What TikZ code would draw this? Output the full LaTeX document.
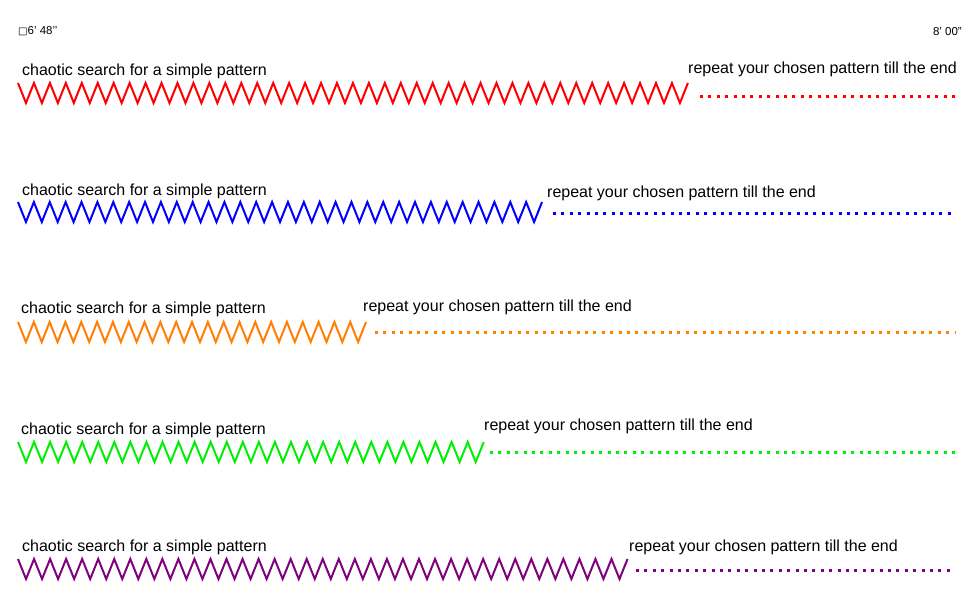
\documentclass[tikz,border=0pt]{standalone}
\usepackage{fontspec}
\setmainfont{Liberation Sans}
\newfontfamily\symfont{DejaVu Sans}
\definecolor{zorange}{RGB}{255,128,0}
\definecolor{zgreen}{RGB}{0,240,0}
\definecolor{zpurple}{RGB}{128,0,128}
\tikzset{
  zig/.style={line width=2pt, line join=miter},
  dotline/.style={line width=3pt, dash pattern=on 3pt off 5.4pt},
  lbl/.style={anchor=base west, inner sep=0pt, font=\fontsize{16}{19}\selectfont},
  stamp/.style={inner sep=0pt, font=\fontsize{11.5}{13}\selectfont}
}
\begin{document}
\begin{tikzpicture}[x=1pt, y=-1pt]
    \useasboundingbox (0,0) rectangle (980,600);

    % Time stamps
    \node[stamp, anchor=base west] (start) at (18,34) {{\symfont\fontsize{10}{12}\selectfont □}6\symbol{39} 48\symbol{39}\symbol{39}};
    \node[stamp, anchor=base east] (finish) at (962,35.5) {8\symbol{39} 00\symbol{34}};

    % Red row
    \draw[zig, red] (18,83) foreach \i in {1,...,42} { -- ++(7.975,20) -- ++(7.975,-20) };
    \draw[dotline, red] (700,96) -- (955,96);
    \node[lbl] (chaosred) at (22,75) {chaotic search for a simple pattern};
    \node[lbl] (repeatred) at (688,73.5) {repeat your chosen pattern till the end};

    % Blue row
    \draw[zig, blue] (18,202) foreach \i in {1,...,33} { -- ++(7.94,20) -- ++(7.94,-20) };
    \draw[dotline, blue] (553,213) -- (955,213);
    \node[lbl] (chaosblue) at (22,195) {chaotic search for a simple pattern};
    \node[lbl] (repeatblue) at (547,197) {repeat your chosen pattern till the end};

    % Orange row
    \draw[zig, zorange] (18,322) foreach \i in {1,...,22} { -- ++(7.91,20) -- ++(7.91,-20) };
    \draw[dotline, zorange] (375,332) -- (955,332);
    \node[lbl] (chaosorange) at (21,313.5) {chaotic search for a simple pattern};
    \node[lbl] (repeatorange) at (363,311.5) {repeat your chosen pattern till the end};

    % Green row
    \draw[zig, zgreen] (18,442) foreach \i in {1,...,29} { -- ++(8.03,20) -- ++(8.03,-20) };
    \draw[dotline, zgreen] (490,452) -- (955,452);
    \node[lbl] (chaosgreen) at (21,434) {chaotic search for a simple pattern};
    \node[lbl] (repeatgreen) at (484,430) {repeat your chosen pattern till the end};

    % Purple row
    \draw[zig, zpurple] (18,559) foreach \i in {1,...,38} { -- ++(8.02,20) -- ++(8.02,-20) };
    \draw[dotline, zpurple] (636,570) -- (955,570);
    \node[lbl] (chaospurple) at (22,551) {chaotic search for a simple pattern};
    \node[lbl] (repeatpurple) at (629,551) {repeat your chosen pattern till the end};
\end{tikzpicture}
\end{document}
